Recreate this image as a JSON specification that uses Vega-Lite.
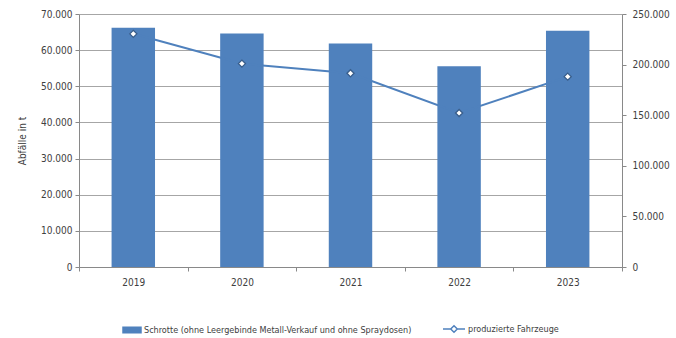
{
  "$schema": "https://vega.github.io/schema/vega-lite/v6.json",
  "autosize": "none",
  "width": 543,
  "height": 253,
  "padding": {"left": 79, "top": 14, "right": 54, "bottom": 71},
  "config": {
    "locale": {"number": {"decimal": ",", "thousands": ".", "grouping": [3], "currency": ["", " €"]}},
    "font": "Liberation Sans Narrow, DejaVu Sans Condensed, sans-serif",
    "view": {"stroke": null},
    "axis": {"labelFont": "Liberation Sans Narrow, DejaVu Sans Condensed, sans-serif", "labelFontSize": 10, "labelColor": "#404040", "domainColor": "#898989", "tickColor": "#898989", "gridColor": "#a6a6a6", "titleFont": "Liberation Sans Narrow, DejaVu Sans Condensed, sans-serif", "titleFontWeight": "normal", "titleColor": "#404040"},
    "legend": {"labelFont": "Liberation Sans Narrow, DejaVu Sans Condensed, sans-serif", "labelFontSize": 9, "labelColor": "#404040", "labelLimit": 0, "labelOffset": 2}
  },
  "data": {"values": [
    {"Jahr": "2019", "Schrotte": 66170, "Fahrzeuge": 230400},
    {"Jahr": "2020", "Schrotte": 64590, "Fahrzeuge": 201000},
    {"Jahr": "2021", "Schrotte": 61820, "Fahrzeuge": 191400},
    {"Jahr": "2022", "Schrotte": 55530, "Fahrzeuge": 152200},
    {"Jahr": "2023", "Schrotte": 65400, "Fahrzeuge": 188100}
  ]},
  "encoding": {
    "x": {"field": "Jahr", "type": "nominal", "scale": {"paddingInner": 0, "paddingOuter": 0},
      "axis": {"title": null, "labelAngle": 0, "tickBand": "extent", "grid": false, "tickSize": 4, "labelPadding": 6, "domainColor": "#898989"}}
  },
  "layer": [
    {
      "mark": {"type": "bar", "width": {"band": 0.4}},
      "encoding": {
        "y": {"field": "Schrotte", "type": "quantitative", "scale": {"domain": [0, 70000]},
          "axis": {"title": "Abfälle in t", "values": [0,10000,20000,30000,40000,50000,60000,70000], "format": ",.0f", "tickSize": 4, "titlePadding": 13, "titleFontSize": 10, "labelPadding": 3}},
        "fill": {"datum": "Schrotte (ohne Leergebinde Metall-Verkauf und ohne Spraydosen)", "type": "nominal",
          "scale": {"range": ["#4f81bd"]},
          "legend": {"title": null, "orient": "none", "legendX": 43, "legendY": 306, "symbolType": "M-1,-0.36H1V0.36H-1Z", "symbolSize": 380, "symbolStrokeWidth": 0}}
      }
    },
    {
      "encoding": {
        "y": {"field": "Fahrzeuge", "type": "quantitative", "scale": {"domain": [0, 250000]},
          "axis": {"title": null, "orient": "right", "values": [0,50000,100000,150000,200000,250000], "format": ",.0f", "grid": false, "tickSize": 4, "labelPadding": 6}}
      },
      "layer": [
        {
          "mark": {"type": "line", "strokeWidth": 2},
          "encoding": {
            "stroke": {"datum": "produzierte Fahrzeuge", "type": "nominal",
              "scale": {"range": ["#4f81bd"]},
              "legend": {"title": null, "orient": "none", "legendX": 363, "legendY": 303, "symbolType": "M-1,0L-0.3,0M0.3,0L1,0M0,-0.3L0.3,0L0,0.3L-0.3,0Z", "symbolSize": 484, "symbolStrokeWidth": 1.5, "symbolFillColor": "white"}}
          }
        },
        {
          "mark": {"type": "point", "shape": "diamond", "filled": true, "fill": "white", "stroke": "#385d8a", "strokeWidth": 1.3, "size": 50, "opacity": 1},
          "encoding": {}
        }
      ]
    }
  ],
  "resolve": {"scale": {"y": "independent", "fill": "independent", "stroke": "independent"}}
}
